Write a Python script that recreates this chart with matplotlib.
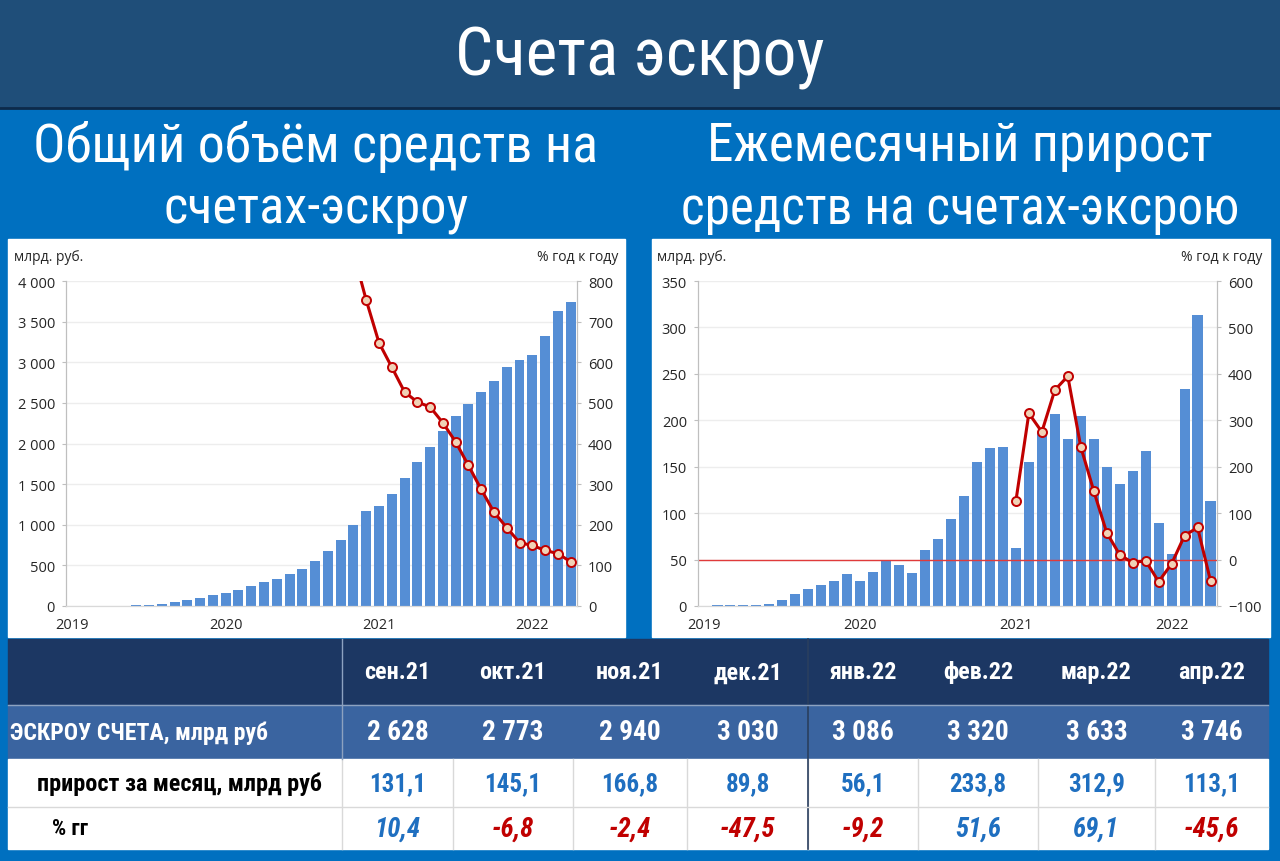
import matplotlib
matplotlib.use("Agg")
import matplotlib.pyplot as plt
import numpy as np
from matplotlib import font_manager as fm
from matplotlib.patches import Rectangle
from matplotlib.ticker import FuncFormatter, MultipleLocator

plt.rcParams["font.family"] = ["Open Sans", "DejaVu Sans"]

# pick a narrow face if one is installed
entries = fm.fontManager.ttflist
names = {e.name for e in entries}
if "Liberation Sans Narrow" in names:
    NARROW = dict(family="Liberation Sans Narrow")
elif "Roboto Condensed" in names:
    NARROW = dict(family="Roboto Condensed")
elif any(e.name == "DejaVu Sans" and "condensed" in str(e.stretch) for e in entries):
    NARROW = dict(family="DejaVu Sans", stretch="condensed")
else:
    NARROW = dict(family="Roboto")

# monthly data, Jan 2019 .. Apr 2022
years = ["2019", "2020", "2021", "2022"]
total = [1, 2, 3, 4, 6, 8, 16, 29, 53, 74, 102, 131,
         164, 201, 250, 295, 328, 389, 459, 553, 677, 808, 993, 1169,
         1231, 1383, 1571, 1776, 1961, 2154, 2338, 2490, 2628, 2773, 2940, 3030,
         3086, 3320, 3633, 3746]
monthly = [0.4, 1.4, 0.7, 1.4, 1.4, 2.2, 6.5, 13, 18, 23, 27, 34,
           27, 37, 49, 44, 36, 60, 72, 94, 119, 155, 170, 171,
           62, 155, 186, 207, 180, 205, 180, 150, 131.1, 145.1, 166.8, 89.8,
           56.1, 233.8, 312.9, 113.1]
# % y/y of the total, from Nov 2020 (first point is off the chart)
yoy_total = [870, 753, 648, 588, 527, 502, 490, 451, 404, 346, 287, 231, 193,
             156, 149, 137, 129, 109]
# % y/y of the monthly increase, from Jan 2021
yoy_monthly = [126, 315, 275, 365, 395, 243, 148, 58, 10.4, -6.8, -2.4, -47.5,
               -9.2, 51.6, 69.1, -45.6]

table_months = ["сен.21", "окт.21", "ноя.21", "дек.21",
                "янв.22", "фев.22", "мар.22", "апр.22"]
row_labels = ["ЭСКРОУ СЧЕТА, млрд руб", "прирост за месяц, млрд руб", "% гг"]

x = np.arange(len(total))
BAR = "#558ed5"
RED = "#c00000"
BLUE_TXT = "#1f6fc0"
MFC = "#f0d2b6"


def thousands(v, pos=None):
    return f"{int(round(v)):,}".replace(",", " ")


def dec(v):
    return f"{v:.1f}".replace(".", ",")


fig = plt.figure(figsize=(12.8, 8.62), dpi=100)
renderer = fig.canvas.get_renderer()


def fit(t, width):
    # scale the font so the text spans the width seen in the reference
    w = t.get_window_extent(renderer).width
    t.set_fontsize(t.get_fontsize() * width / w)
    return t.get_fontsize()


# background in pixel coordinates
bg = fig.add_axes([0, 0, 1, 1])
bg.set_xlim(0, 1280)
bg.set_ylim(862, 0)
bg.axis("off")
bg.add_patch(Rectangle((0, 0), 1280, 862, color="#0070c0"))
bg.add_patch(Rectangle((0, 0), 1280, 108, color="#1f4e79"))
bg.plot([0, 1280], [109, 109], color="#0d2a4a", lw=2)
t = bg.text(640, 58, "Счета эскроу", color="white", fontsize=40,
            ha="center", va="center", **NARROW)
fit(t, 369)
subtitles = [(316, 147, "Общий объём средств на", 565),
             (316, 210, "счетах-эскроу", 305),
             (960, 147, "Ежемесячный прирост", 505),
             (960, 210, "средств на счетах-эксрою", 557)]
for cx, cy, s, w in subtitles:
    t = bg.text(cx, cy, s, color="white", fontsize=30, ha="center",
                va="center", **NARROW)
    fit(t, w)

bg.add_patch(Rectangle((8, 240), 617, 398, color="white"))
bg.add_patch(Rectangle((652, 240), 618, 398, color="white"))

# table
row_y = [640, 706, 760, 808, 850]
col_x = [8, 342, 453, 573, 687, 808, 918, 1038, 1155, 1268]
row_fill = ["#1c3763", "#3a64a0", "white", "white"]
for i, c in enumerate(row_fill):
    bg.add_patch(Rectangle((col_x[0], row_y[i]), col_x[-1] - col_x[0],
                           row_y[i + 1] - row_y[i], color=c))
for cx in col_x[1:-1]:
    bg.plot([cx, cx], [row_y[2], row_y[4]], color="#d9d9d9", lw=1)
bg.plot([col_x[1], col_x[1]], [row_y[0], row_y[2]], color="#8da2c0", lw=1)
bg.plot([col_x[5], col_x[5]], [row_y[0], row_y[4]], color="#2a3f5f", lw=1.2)
bg.plot([col_x[0], col_x[-1]], [row_y[1], row_y[1]], color="#8da2c0", lw=1)
bg.plot([col_x[0], col_x[-1]], [row_y[3], row_y[3]], color="#d9d9d9", lw=1)

centers = [(a + b) / 2 for a, b in zip(col_x[1:-1], col_x[2:])]
mids = [(a + b) / 2 for a, b in zip(row_y[:-1], row_y[1:])]

rows = [
    (table_months, lambda v: "white", "normal", 66),
    ([thousands(v) for v in total[-8:]], lambda v: "white", "normal", 62),
    ([dec(v) for v in monthly[-8:]], lambda v: BLUE_TXT, "normal", 57),
    ([dec(v) for v in yoy_monthly[-8:]],
     lambda v: RED if v.startswith("-") else BLUE_TXT, "italic", 46),
]
for (vals, col, sty, w), my in zip(rows, mids):
    texts = [bg.text(cx, my, s, color=col(s), fontsize=18, fontweight="bold",
                     style=sty, ha="center", va="center", **NARROW)
             for cx, s in zip(centers, vals)]
    size = fit(texts[0], w)
    for tt in texts[1:]:
        tt.set_fontsize(size)

label_specs = [(10, "white", 258), (37, "black", 285), (52, "black", 36)]
for (lx, lc, w), s, my in zip(label_specs, row_labels, mids[1:]):
    t = bg.text(lx, my, s, color=lc, fontsize=18, fontweight="bold",
                ha="left", va="center", **NARROW)
    fit(t, w)

# chart captions
for tx, ha, s in [(14, "left", "млрд. руб."), (618, "right", "% год к году"),
                  (657, "left", "млрд. руб."), (1262, "right", "% год к году")]:
    bg.text(tx, 258, s, fontsize=10, color="#262626", ha=ha, va="center")


def style(ax, twin):
    ax.set_xlim(-0.5, len(total) - 0.5)
    ax.set_xticks([0, 12, 24, 36])
    ax.set_xticklabels(years)
    ax.tick_params(axis="x", length=0, pad=8, labelsize=10.5, labelcolor="#262626")
    ax.tick_params(axis="y", length=3, pad=5, labelsize=10.5,
                   color="#bfbfbf", labelcolor="#262626")
    twin.tick_params(axis="y", length=3, pad=5, labelsize=10.5,
                     color="#bfbfbf", labelcolor="#262626")
    ax.yaxis.grid(True, color="#ededed", lw=1)
    ax.set_axisbelow(True)
    for a in (ax, twin):
        a.spines["top"].set_visible(False)
        a.spines["left"].set_color("#bfbfbf")
        a.spines["right"].set_color("#bfbfbf")
        a.spines["bottom"].set_color("#d9d9d9")


# left chart: total balance
axL = fig.add_axes([66 / 1280, 255 / 862, 511 / 1280, 325 / 862])
axL.bar(x, total, width=0.78, color=BAR, zorder=2)
axL.set_ylim(0, 4000)
axL.yaxis.set_major_locator(MultipleLocator(500))
axL.yaxis.set_major_formatter(FuncFormatter(thousands))
axL2 = axL.twinx()
axL2.plot(x[22:], yoy_total, color=RED, lw=2.2, marker="o", ms=6.5,
          mfc=MFC, mec=RED, mew=1.4)
axL2.set_ylim(0, 800)
axL2.yaxis.set_major_locator(MultipleLocator(100))
style(axL, axL2)

# right chart: monthly increase
axR = fig.add_axes([698 / 1280, 255 / 862, 519 / 1280, 325 / 862])
axR.bar(x, monthly, width=0.78, color=BAR, zorder=2)
axR.set_ylim(0, 350)
axR.yaxis.set_major_locator(MultipleLocator(50))
axR2 = axR.twinx()
axR2.axhline(0, color="#e03a3a", lw=1)
axR2.plot(x[24:], yoy_monthly, color=RED, lw=2.2, marker="o", ms=6.5,
          mfc=MFC, mec=RED, mew=1.4)
axR2.set_ylim(-100, 600)
axR2.yaxis.set_major_locator(MultipleLocator(100))
style(axR, axR2)

fig.savefig("out.png", dpi=100)
